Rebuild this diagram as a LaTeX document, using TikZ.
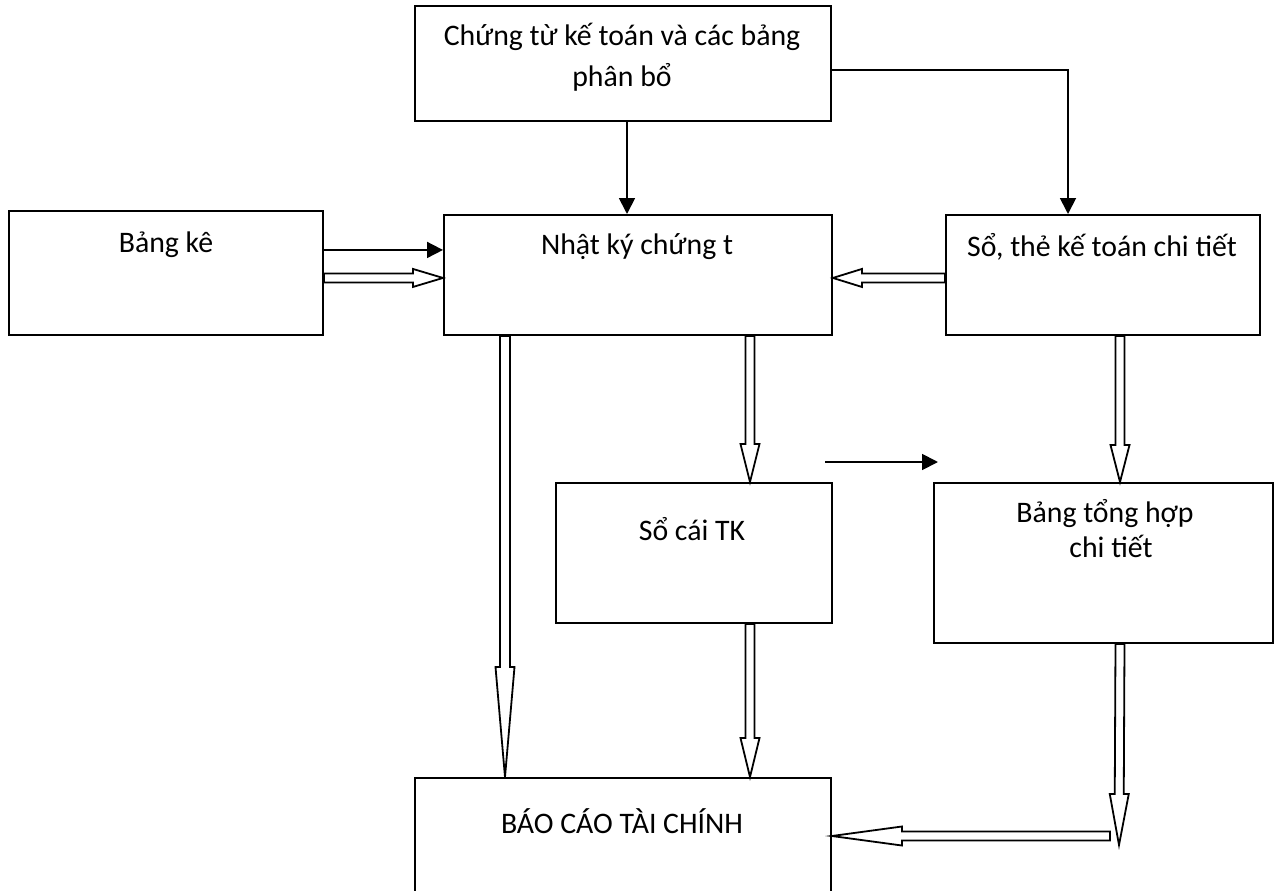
\documentclass[tikz,border=0pt]{standalone}
\usepackage{fontspec}
\setmainfont{Carlito}
\usetikzlibrary{calc,arrows.meta}

\tikzset{
  box/.style={draw, line width=1.9pt, inner sep=0pt, anchor=north west},
  lbl/.style={anchor=base, inner sep=0pt, align=center, font=\fontsize{29.8}{41}\selectfont},
  solidarrow/.style={line width=1.8pt, -{Triangle[length=16pt,width=16pt]}},
  hollowarrow/.style={line width=1.8pt, fill=white, line join=miter},
}

% hollow block arrow: #1 tail, #2 tip, #3 head length, #4 half shaft width, #5 half head width
\newcommand\blockarrow[5]{%
  \coordinate (ba-s) at #1;
  \coordinate (ba-e) at #2;
  \coordinate (ba-h) at ($(ba-e)!#3!(ba-s)$);
  \draw[hollowarrow]
    ($(ba-s)!#4!90:(ba-e)$) -- ($(ba-h)!#4!-90:(ba-s)$) -- ($(ba-h)!#5!-90:(ba-s)$)
    -- (ba-e) -- ($(ba-h)!#5!90:(ba-s)$) -- ($(ba-h)!#4!90:(ba-s)$)
    -- ($(ba-s)!#4!-90:(ba-e)$) -- cycle;}

\begin{document}
\begin{tikzpicture}[x=1pt, y=-1pt]
\useasboundingbox (0,0) rectangle (1280,891);
\clip (0,0) rectangle (1280,891);

% boxes
\node[box, minimum width=416pt, minimum height=115pt] (ct) at (414,5) {};
\node[box, minimum width=314pt, minimum height=124pt] (bk) at (8,210) {};
\node[box, minimum width=388pt, minimum height=120pt] (nk) at (443,214) {};
\node[box, minimum width=314pt, minimum height=120pt] (st) at (945,214) {};
\node[box, minimum width=276pt, minimum height=140pt] (sc) at (555,482) {};
\node[box, minimum width=339pt, minimum height=160pt] (bt) at (933,482) {};
\node[box, minimum width=416pt, minimum height=130pt] (bc) at (414,777) {};

% box texts (a two-line text sits on the baseline of its last line)
\node[lbl] (ct-t) at (622,86) {Chứng từ kế toán và các bảng\\phân bổ};
\node[lbl] (bk-t) at (166,252) {Bảng kê};
\node[lbl] (nk-t) at (637,254) {Nhật ký chứng t};
\node[lbl] (st-t) at (1102,256) {Sổ, thẻ kế toán chi tiết};
\node[lbl] (sc-t) at (692,540) {Sổ cái TK};
\node[lbl, font=\fontsize{29.8}{35}\selectfont] (bt-t) at (1105,557) {Bảng tổng hợp\\\hspace*{12pt}chi tiết};
\node[lbl] (bc-t) at (622,833) {BÁO CÁO TÀI CHÍNH};

% solid connectors
\coordinate (p1) at ($(ct.south west)+(213,0)$);
\draw[solidarrow] (p1) -- (p1 |- nk.north);
\coordinate (p2) at ($(ct.east)+(0,6.5)$);
\coordinate (p3) at ($(st.north west)+(123,0)$);
\draw[solidarrow] (p2) -| (p3);
\coordinate (p4) at ($(bk.east)+(0,-23)$);
\draw[solidarrow] (p4) -- (p4 -| nk.west);
\coordinate (f1) at (825,462);
\coordinate (f2) at (938,462);
\draw[solidarrow] (f1) -- (f2);

% hollow block connectors
\coordinate (q1) at ($(bk.east)+(0,5)$);
\blockarrow{(q1)}{(q1 -| nk.west)}{30pt}{4.5pt}{9pt}
\coordinate (q2) at ($(st.west)+(0,3)$);
\blockarrow{(q2)}{(q2 -| nk.east)}{29pt}{4.5pt}{9pt}
\coordinate (q3) at ($(nk.south west)+(62,0)$);
\blockarrow{(q3)}{(q3 |- bc.north)}{110pt}{5pt}{9.5pt}
\coordinate (q4) at ($(nk.south west)+(307,0)$);
\blockarrow{(q4)}{(q4 |- sc.north)}{38pt}{4.5pt}{9.5pt}
\coordinate (q5) at (q4 |- sc.south);
\blockarrow{(q5)}{(q5 |- bc.north)}{39pt}{4.5pt}{9.5pt}
\coordinate (q6) at ($(st.south west)+(175,0)$);
\blockarrow{(q6)}{(q6 |- bt.north)}{37pt}{4.5pt}{9.5pt}
\coordinate (q7) at (q6 |- bt.south);
\coordinate (f3) at (1119,845);
\blockarrow{(q7)}{(f3)}{51pt}{4.5pt}{9.5pt}
\coordinate (f4) at (1110,836);
\blockarrow{(f4)}{(f4 -| bc.east)}{70pt}{4.5pt}{9.5pt}
\end{tikzpicture}
\end{document}
